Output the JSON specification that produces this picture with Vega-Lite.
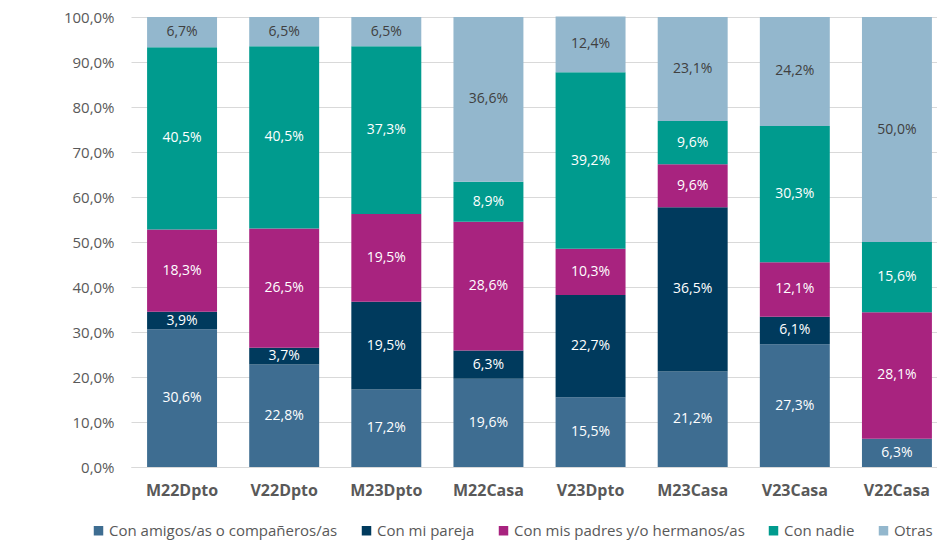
{
  "$schema": "https://vega.github.io/schema/vega-lite/v6.json",
  "width": 806,
  "height": 450,
  "autosize": {"type": "none"},
  "padding": {"left": 131, "top": 17, "right": 0, "bottom": 73},
  "config": {
    "locale": {"number": {"decimal": ",", "thousands": ".", "grouping": [3], "currency": ["", " €"]}},
    "view": {"stroke": null},
    "font": "Open Sans"
  },
  "data": {
    "values": [
      {"cat": "M22Dpto", "grupo": "Con amigos/as o compañeros/as", "k": 0, "v": 0.306},
      {"cat": "M22Dpto", "grupo": "Con mi pareja", "k": 1, "v": 0.039},
      {"cat": "M22Dpto", "grupo": "Con mis padres y/o hermanos/as", "k": 2, "v": 0.183},
      {"cat": "M22Dpto", "grupo": "Con nadie", "k": 3, "v": 0.405},
      {"cat": "M22Dpto", "grupo": "Otras", "k": 4, "v": 0.067},
      {"cat": "V22Dpto", "grupo": "Con amigos/as o compañeros/as", "k": 0, "v": 0.228},
      {"cat": "V22Dpto", "grupo": "Con mi pareja", "k": 1, "v": 0.037},
      {"cat": "V22Dpto", "grupo": "Con mis padres y/o hermanos/as", "k": 2, "v": 0.265},
      {"cat": "V22Dpto", "grupo": "Con nadie", "k": 3, "v": 0.405},
      {"cat": "V22Dpto", "grupo": "Otras", "k": 4, "v": 0.065},
      {"cat": "M23Dpto", "grupo": "Con amigos/as o compañeros/as", "k": 0, "v": 0.172},
      {"cat": "M23Dpto", "grupo": "Con mi pareja", "k": 1, "v": 0.195},
      {"cat": "M23Dpto", "grupo": "Con mis padres y/o hermanos/as", "k": 2, "v": 0.195},
      {"cat": "M23Dpto", "grupo": "Con nadie", "k": 3, "v": 0.373},
      {"cat": "M23Dpto", "grupo": "Otras", "k": 4, "v": 0.065},
      {"cat": "M22Casa", "grupo": "Con amigos/as o compañeros/as", "k": 0, "v": 0.196},
      {"cat": "M22Casa", "grupo": "Con mi pareja", "k": 1, "v": 0.063},
      {"cat": "M22Casa", "grupo": "Con mis padres y/o hermanos/as", "k": 2, "v": 0.286},
      {"cat": "M22Casa", "grupo": "Con nadie", "k": 3, "v": 0.089},
      {"cat": "M22Casa", "grupo": "Otras", "k": 4, "v": 0.366},
      {"cat": "V23Dpto", "grupo": "Con amigos/as o compañeros/as", "k": 0, "v": 0.155},
      {"cat": "V23Dpto", "grupo": "Con mi pareja", "k": 1, "v": 0.227},
      {"cat": "V23Dpto", "grupo": "Con mis padres y/o hermanos/as", "k": 2, "v": 0.103},
      {"cat": "V23Dpto", "grupo": "Con nadie", "k": 3, "v": 0.392},
      {"cat": "V23Dpto", "grupo": "Otras", "k": 4, "v": 0.124},
      {"cat": "M23Casa", "grupo": "Con amigos/as o compañeros/as", "k": 0, "v": 0.212},
      {"cat": "M23Casa", "grupo": "Con mi pareja", "k": 1, "v": 0.365},
      {"cat": "M23Casa", "grupo": "Con mis padres y/o hermanos/as", "k": 2, "v": 0.096},
      {"cat": "M23Casa", "grupo": "Con nadie", "k": 3, "v": 0.096},
      {"cat": "M23Casa", "grupo": "Otras", "k": 4, "v": 0.231},
      {"cat": "V23Casa", "grupo": "Con amigos/as o compañeros/as", "k": 0, "v": 0.273},
      {"cat": "V23Casa", "grupo": "Con mi pareja", "k": 1, "v": 0.061},
      {"cat": "V23Casa", "grupo": "Con mis padres y/o hermanos/as", "k": 2, "v": 0.121},
      {"cat": "V23Casa", "grupo": "Con nadie", "k": 3, "v": 0.303},
      {"cat": "V23Casa", "grupo": "Otras", "k": 4, "v": 0.242},
      {"cat": "V22Casa", "grupo": "Con amigos/as o compañeros/as", "k": 0, "v": 0.063},
      {"cat": "V22Casa", "grupo": "Con mis padres y/o hermanos/as", "k": 2, "v": 0.281},
      {"cat": "V22Casa", "grupo": "Con nadie", "k": 3, "v": 0.156},
      {"cat": "V22Casa", "grupo": "Otras", "k": 4, "v": 0.500}
    ]
  },
  "transform": [
    {"stack": "v", "groupby": ["cat"], "sort": [{"field": "k", "order": "ascending"}], "as": ["y0", "y1"]},
    {"calculate": "(datum.y0 + datum.y1) / 2", "as": "ym"}
  ],
  "encoding": {
    "x": {
      "field": "cat",
      "type": "nominal",
      "sort": ["M22Dpto", "V22Dpto", "M23Dpto", "M22Casa", "V23Dpto", "M23Casa", "V23Casa", "V22Casa"],
      "scale": {"range": [0, 817], "paddingInner": 0.315, "paddingOuter": 0.1575},
      "axis": {
        "title": null,
        "labelAngle": 0,
        "labelFont": "Open Sans",
        "labelFontWeight": "bold",
        "labelFontSize": 16,
        "labelColor": "#595959",
        "labelPadding": 15,
        "ticks": false,
        "domainColor": "#D9D9D9",
        "domainWidth": 1
      }
    }
  },
  "layer": [
    {
      "mark": {"type": "bar"},
      "encoding": {
        "y": {
          "field": "y0",
          "type": "quantitative",
          "scale": {"domain": [0, 1]},
          "axis": {
            "title": null,
            "format": ".1%",
            "values": [0, 0.1, 0.2, 0.3, 0.4, 0.5, 0.6, 0.7, 0.8, 0.9, 1],
            "labelFont": "Open Sans",
            "labelFontSize": 15,
            "labelColor": "#595959",
            "labelPadding": 17,
            "ticks": false,
            "domain": false,
            "gridColor": "#D9D9D9",
            "gridWidth": 1
          }
        },
        "y2": {"field": "y1"},
        "color": {
          "field": "grupo",
          "type": "nominal",
          "scale": {
            "domain": ["Con amigos/as o compañeros/as", "Con mi pareja", "Con mis padres y/o hermanos/as", "Con nadie", "Otras"],
            "range": ["#3E6D91", "#003A5D", "#A8237F", "#009B8E", "#93B7CD"]
          },
          "legend": {
            "title": null,
            "orient": "none",
            "direction": "horizontal",
            "legendX": -40,
            "legendY": 506,
            "symbolType": "square",
            "symbolSize": 90,
            "symbolStrokeWidth": 0,
            "labelFont": "Open Sans",
            "labelFontSize": 15,
            "labelLimit": 0,
            "labelColor": "#595959",
            "columnPadding": 21,
            "labelOffset": 3
          }
        }
      }
    },
    {
      "mark": {"type": "text", "fontSize": 14, "font": "Open Sans", "baseline": "middle"},
      "encoding": {
        "y": {"field": "ym", "type": "quantitative"},
        "text": {"field": "v", "type": "quantitative", "format": ".1%"},
        "color": {
          "condition": {"test": "datum.k === 4", "value": "#404040"},
          "value": "#FFFFFF"
        }
      }
    }
  ]
}
